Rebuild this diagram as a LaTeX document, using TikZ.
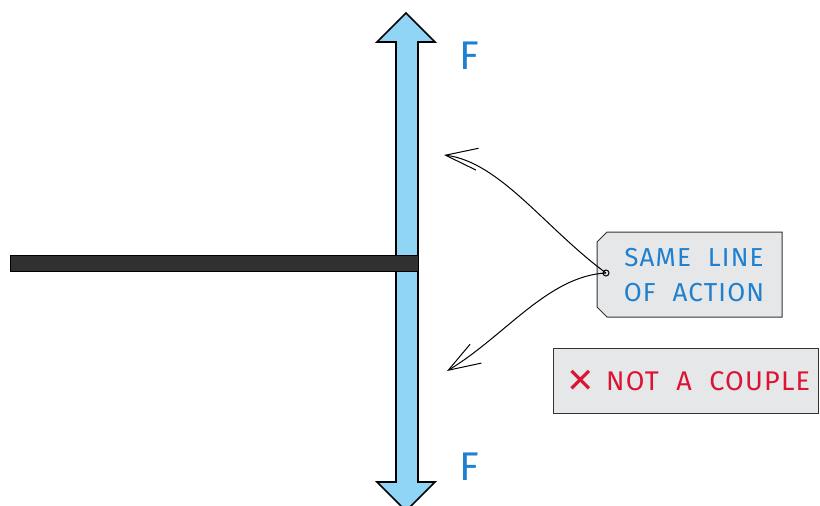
\documentclass[tikz,border=0pt]{standalone}
\usepackage{fontspec}
\setmainfont{Fira Sans}
\newfontfamily\symfont{DejaVu Sans}
\newfontfamily\spacedfont[LetterSpace=4.5,WordSpace=2.1]{Fira Sans}
\usetikzlibrary{arrows.meta}
\definecolor{arrowblue}{HTML}{90D4F6}
\definecolor{textblue}{HTML}{1E80CF}
\definecolor{textred}{HTML}{DC1434}
\definecolor{tagfill}{HTML}{E6E7E9}
\definecolor{roddark}{HTML}{303030}
\tikzset{
  forcearrow/.style={draw=black, line width=1.6pt, fill=arrowblue, line join=miter},
  rod/.style={draw=black, line width=1pt, fill=roddark},
  flabel/.style={text=textblue, font=\fontsize{40}{40}\selectfont, inner sep=0pt},
  tagshape/.style={draw=black!80, line width=1pt, fill=tagfill},
  tagtext/.style={text=textblue, font=\spacedfont\fontsize{26}{35}\selectfont, align=center, inner sep=0pt},
  notebox/.style={draw=black!80, line width=1pt, fill=tagfill},
  notetext/.style={text=textred, font=\spacedfont\fontsize{27}{27}\selectfont, inner sep=0pt, anchor=west},
  crosstext/.style={text=textred, font=\symfont\fontsize{34}{34}\selectfont, inner sep=0pt},
  pointer/.style={draw=black, line width=1pt, -{Straight Barb[length=32pt,width=22pt,line width=1pt]}},
}
\begin{document}
\begin{tikzpicture}[x=1pt,y=-1pt]
\useasboundingbox (0,0) rectangle (820,506);
% vertical double arrow
\path[forcearrow] (406,13) -- (435,42) -- (418,42) -- (418,482) -- (435,482) -- (406,511)
  -- (377,482) -- (396,482) -- (396,42) -- (377,42) -- cycle;
% rod
\path[rod] (10,255) rectangle (418,271);
% labels
\node[flabel] (ftop) at (469,56) {F};
\node[flabel] (fbot) at (469,467) {F};
% tag
\path[tagshape] (607,232) -- (782,232) -- (782,317) -- (607,317) -- (597,307) -- (597,242) -- cycle;
\node[tagtext] (tag) at (694,275) {SAME LINE\\OF ACTION};
\coordinate (hole) at (606,273);
\draw[black, line width=1pt] (hole) circle (3pt);
% note box
\path[notebox] (553,348) rectangle (818,413);
\node[crosstext] (cross) at (581,381.5) {✕};
\node[notetext] (note) at (606,381.5) {NOT A COUPLE};
% pointers
\coordinate (tipU) at (444,155);
\coordinate (tipL) at (447,371);
\draw[pointer] (hole) .. controls (545,228) and (500,162) .. (tipU);
\draw[pointer] (hole) .. controls (548,276) and (505,336) .. (tipL);
\end{tikzpicture}
\end{document}
